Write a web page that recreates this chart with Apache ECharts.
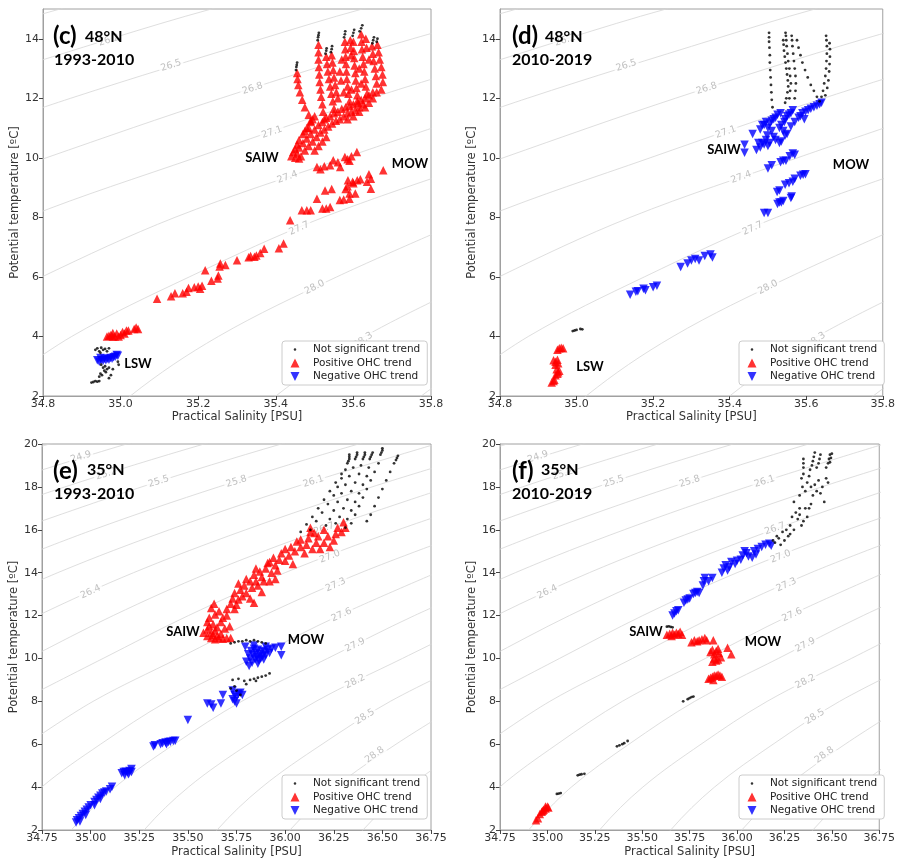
<!DOCTYPE html>
<html><head><meta charset="utf-8">
<script src="https://cdn.jsdelivr.net/npm/echarts@6/dist/echarts.min.js"></script>
<style>html,body{margin:0;padding:0;background:#fff}#chart{width:898px;height:861px}</style>
</head><body><div id="chart"></div>
<script>
// ---------- tick labels ----------
const topXTicks = [34.8, 35.0, 35.2, 35.4, 35.6, 35.8];
const topYTicks = [2, 4, 6, 8, 10, 12, 14];
const bottomXTicks = [34.75, 35.0, 35.25, 35.5, 35.75, 36.0, 36.25, 36.5, 36.75];
const bottomYTicks = [2, 4, 6, 8, 10, 12, 14, 16, 18, 20];
const seriesNames = ['Not significant trend', 'Positive OHC trend', 'Negative OHC trend'];
const panelTitles = ['(c)', '(d)', '(e)', '(f)'];
const panelLats = ['48°N', '48°N', '35°N', '35°N'];
const panelPeriods = ['1993-2010', '2010-2019', '1993-2010', '2010-2019'];

// ---------- isopycnal (sigma-theta) contours: [S, T] ----------
const topContourLevels = ['25.9','26.2','26.5','26.8','27.1','27.4','27.7','28.0','28.3','28.6'];
const topContourLines = [
  [[34.584,14],[34.844,15],[35.144,16]],
  [[34.484,12],[34.974,14],[35.234,15],[35.536,16]],
  [[34.423,10],[34.871,12],[35.364,14],[35.623,15],[35.928,16]],
  [[34.376,8],[34.808,10],[35.258,12],[35.753,14],[36.32,16]],
  [[34.418,6],[34.758,8],[35.192,10],[35.645,12],[36.143,14]],
  [[34.497,4],[34.797,6],[35.14,8],[35.577,10],[36.032,12]],
  [[34.65,2],[34.874,4],[35.177,6],[35.522,8],[35.962,10]],
  [[34.863,0],[35.025,2],[35.252,4],[35.557,6],[35.904,8]],
  [[35.236,0],[35.40,2],[35.629,4],[35.937,6]],
  [[35.609,0],[35.775,2],[36.006,4]]
];
const topContourLabels = [
  ['26.2',34.97,13.95],['26.5',35.13,13.1],['26.8',35.34,12.33],['27.1',35.39,10.86],
  ['27.4',35.43,9.35],['27.7',35.46,7.63],['28.0',35.5,5.65],['28.3',35.625,3.87]
];
const bottomContourLevels = ['24.6','24.9','25.2','25.5','25.8','26.1','26.4','26.7','27.0','27.3','27.6','27.9','28.2','28.5','28.8','29.1'];
const bottomContourLines = [
  [[34.079,18],[34.788,20],[35.573,22]],
  [[34.474,18],[35.185,20],[35.973,22]],
  [[34.229,16],[34.868,18],[35.583,20],[36.373,22]],
  [[34.621,16],[35.263,18],[35.98,20],[36.773,22]],
  [[34.442,14],[35.013,16],[35.658,18],[36.377,20],[37.173,22]],
  [[34.342,12],[34.831,14],[35.405,16],[36.053,18],[36.775,20]],
  [[34.295,10],[34.729,12],[35.221,14],[35.797,16],[36.447,18],[37.172,20]],
  [[34.248,8],[34.679,10],[35.116,12],[35.61,14],[36.19,16],[36.842,18]],
  [[34.631,8],[35.064,10],[35.503,12],[36.0,14],[36.582,16],[37.237,18]],
  [[34.671,6],[35.013,8],[35.449,10],[35.89,12],[36.39,14],[36.974,16]],
  [[34.525,2],[34.748,4],[35.051,6],[35.395,8],[35.833,10],[36.277,12],[36.779,14]],
  [[34.9,2],[35.126,4],[35.43,6],[35.777,8],[36.218,10],[36.665,12],[37.169,14]],
  [[35.112,0],[35.275,2],[35.503,4],[35.81,6],[36.159,8],[36.603,10],[37.052,12]],
  [[35.484,0],[35.65,2],[35.881,4],[36.19,6],[36.541,8],[36.987,10]],
  [[35.857,0],[36.025,2],[36.258,4],[36.57,6],[36.924,8]],
  [[36.23,0],[36.40,2],[36.635,4],[36.95,6]]
];
const bottomContourLabels = [
  ['24.9',34.95,19.4],['25.2',35.08,18.6],['25.5',35.35,18.25],['25.8',35.75,18.25],['26.1',36.145,18.25],
  ['26.4',35.0,13.1],['26.7',36.2,16.05],['27.0',36.23,14.75],['27.3',36.26,13.43],['27.6',36.29,12.03],
  ['27.9',36.36,10.63],['28.2',36.36,8.92],['28.5',36.41,7.28],['28.8',36.46,5.5]
];

// ---------- panel (c) 48N 1993-2010 ----------
const cNotSig = [
  [35.452,12.95],[35.453,13.05],[35.454,13.12],[35.455,13.2],
  [35.508,13.95],[35.509,14.05],[35.51,14.12],[35.511,14.2],
  [35.528,13.5],[35.53,13.6],[35.531,13.68],
  [35.542,13.55],[35.544,13.65],[35.545,13.75],
  [35.576,14.05],[35.578,14.15],[35.579,14.25],
  [35.598,14.1],[35.6,14.2],[35.602,14.3],
  [35.616,14.25],[35.62,14.35],[35.623,14.45],
  [35.649,13.85],[35.651,13.95],[35.653,14.05],
  [35.66,13.9],[35.662,14.0],
  [34.935,3.55],[34.94,3.6],[34.945,3.5],[34.95,3.62],[34.955,3.55],[34.96,3.58],[34.965,3.5],[34.97,3.6],[34.948,3.45],
  [34.95,3.05],[34.955,2.95],[34.96,3.0],[34.965,2.9],[34.97,2.95],[34.958,2.85],[34.962,2.8],[34.948,2.75],[34.952,2.7],[34.945,2.65],[34.975,2.7],[34.97,2.6],
  [34.925,2.45],[34.93,2.47],[34.935,2.5],[34.94,2.48],[34.945,2.5],
  [34.995,3.05],[34.993,3.15],[34.98,2.9]
];
const cPositive = [
  [35.455,12.85],[35.456,12.65],[35.458,12.45],[35.462,12.2],[35.468,11.95],[35.475,11.7],[35.485,11.45],[35.49,11.25],
  [35.51,13.8],[35.51,13.55],[35.51,13.3],[35.511,13.05],[35.512,12.8],[35.513,12.55],[35.515,12.3],[35.517,12.05],[35.52,11.8],[35.522,11.55],[35.525,11.3],
  [35.53,13.4],[35.532,13.15],[35.534,12.9],[35.537,12.65],[35.54,12.4],[35.543,12.15],[35.547,11.9],[35.55,11.65],
  [35.544,13.45],[35.546,13.2],[35.548,12.95],[35.55,12.7],[35.553,12.45],[35.556,12.2],
  [35.578,13.9],[35.579,13.65],[35.58,13.4],[35.581,13.15],[35.582,12.9],[35.583,12.65],[35.585,12.4],[35.587,12.15],[35.59,11.9],[35.592,13.95],[35.593,13.7],[35.594,13.45],
  [35.6,13.9],[35.601,13.6],[35.602,13.35],[35.603,13.1],[35.605,12.85],[35.606,12.6],[35.608,12.35],[35.61,12.1],[35.612,11.85],
  [35.62,14.15],[35.621,13.9],[35.622,13.65],[35.624,13.4],[35.626,13.15],[35.628,12.9],[35.63,12.65],[35.632,12.4],[35.635,12.15],[35.632,14.0],[35.634,13.7],
  [35.648,13.75],[35.65,13.5],[35.652,13.25],[35.655,13.0],[35.658,12.75],[35.66,12.5],[35.662,13.8],[35.665,13.55],[35.668,13.3],[35.672,13.05],[35.675,12.8],[35.676,12.55],[35.672,12.3],
  [35.66,12.2],[35.65,12.0],[35.64,11.85],[35.63,11.7],[35.615,11.55],[35.6,11.4],[35.585,11.3],
  [35.565,12.9],[35.568,12.6],[35.57,13.3],[35.615,13.0],[35.64,13.3],[35.595,12.3],[35.62,12.5],[35.575,12.2],[35.56,12.0],
  [35.44,10.05],[35.445,10.2],[35.45,10.0],[35.455,10.15],[35.46,10.35],[35.465,10.05],[35.47,10.5],[35.475,10.25],[35.48,10.65],[35.485,10.4],
  [35.49,10.8],[35.495,10.55],[35.5,10.95],[35.505,10.7],[35.51,11.1],[35.515,10.85],[35.52,11.2],[35.525,10.95],[35.53,11.35],[35.535,11.05],
  [35.54,11.4],[35.545,11.15],[35.55,11.5],[35.555,11.25],[35.56,11.55],[35.565,11.3],[35.57,11.65],[35.575,11.4],[35.58,11.7],[35.585,11.5],
  [35.59,11.75],[35.595,11.55],[35.6,11.8],[35.605,11.6],[35.61,11.9],[35.615,11.7],[35.62,11.95],[35.625,11.8],[35.63,12.0],[35.64,12.1],[35.65,12.2],
  [35.47,10.8],[35.48,11.0],[35.49,11.2],[35.5,11.4],[35.51,10.4],[35.52,10.55],[35.53,10.7],[35.5,10.25],[35.46,10.6],[35.455,10.45],[35.45,10.3],
  [35.495,11.3],[35.485,11.0],[35.475,10.9],[35.46,9.98],
  [35.506,9.69],[35.515,9.62],[35.525,9.72],[35.54,9.75],[35.548,9.92],[35.566,9.69],[35.56,9.85],[35.578,10.03],[35.59,9.9],[35.595,10.05],[35.609,10.2],[35.585,9.95],
  [35.437,7.9],[35.467,8.24],[35.48,8.24],[35.49,8.24],[35.506,8.63],[35.52,8.3],[35.527,8.9],[35.544,8.95],[35.53,8.3],[35.54,8.35],
  [35.565,8.58],[35.575,8.6],[35.59,8.63],[35.59,8.8],[35.605,8.8],[35.58,8.95],[35.586,9.25],[35.598,9.2],[35.61,9.25],[35.618,9.28],
  [35.635,9.2],[35.64,9.45],[35.645,9.3],[35.645,8.96],[35.677,9.58],[35.6,9.15],[35.585,9.05],
  [35.42,7.12],[35.408,6.96],[35.37,6.95],[35.36,6.8],[35.35,6.72],[35.345,6.68],[35.335,6.7],[35.33,6.66],[35.3,6.56],[35.27,6.4],
  [35.257,6.45],[35.255,6.35],[35.25,5.95],[35.252,6.05],[35.218,6.22],[35.234,5.87],[35.21,5.7],[35.2,5.68],[35.19,5.65],[35.175,5.63],
  [35.17,5.5],[35.16,5.45],[35.14,5.45],[35.13,5.35],[35.094,5.27],[35.205,5.6],
  [34.965,4.0],[34.97,4.02],[34.975,4.05],[34.98,4.0],[34.985,4.0],[34.99,4.1],[35.0,4.05],[35.005,4.15],[35.01,4.1],[35.015,4.2],
  [35.02,4.2],[35.035,4.25],[35.04,4.3],[35.045,4.25],[34.98,4.12],[34.995,4.0]
];
const cNegative = [
  [34.94,3.2],[34.945,3.15],[34.948,3.28],[34.95,3.2],[34.955,3.18],[34.958,3.25],[34.962,3.2],[34.966,3.25],
  [34.97,3.22],[34.974,3.28],[34.978,3.25],[34.982,3.3],[34.986,3.32],[34.99,3.38],[34.993,3.35]
];

// ---------- panel (d) 48N 2010-2019 ----------
const dNotSig = [
  [35.503,14.2],[35.503,14.05],[35.503,13.9],[35.504,13.7],[35.505,13.45],[35.505,13.2],[35.506,12.95],[35.507,12.7],[35.508,12.45],[35.509,12.2],[35.51,11.95],[35.512,11.7],
  [35.54,13.95],[35.541,13.8],[35.542,13.6],[35.544,13.4],[35.546,13.2],[35.548,13.0],[35.55,12.8],[35.552,12.6],[35.553,12.4],[35.551,12.2],[35.548,12.0],[35.545,11.85],
  [35.546,14.2],[35.547,14.1],[35.548,13.95],[35.549,13.75],[35.551,13.5],[35.553,13.25],[35.556,13.0],[35.558,12.75],[35.56,12.5],[35.558,12.25],[35.556,12.0],
  [35.562,14.1],[35.563,13.95],[35.564,13.75],[35.566,13.5],[35.568,13.25],[35.57,13.0],[35.572,12.75],[35.573,12.5],[35.572,12.25],[35.57,12.0],
  [35.576,13.95],[35.58,13.7],[35.585,13.45],[35.59,13.2],[35.597,12.95],[35.604,12.7],[35.612,12.45],[35.62,12.25],[35.628,12.05],[35.635,11.9],
  [35.652,14.1],[35.653,13.95],[35.654,13.75],[35.654,13.5],[35.653,13.25],[35.652,13.0],[35.65,12.75],[35.647,12.5],[35.644,12.25],[35.64,12.05],
  [35.661,13.85],[35.662,13.65],[35.662,13.4],[35.661,13.15],[35.66,12.9],[35.658,12.6],[35.655,12.35],[35.65,12.1],
  [34.99,4.18],[34.995,4.2],[35.0,4.22],[35.01,4.25],[35.015,4.24]
];
const dPositive = [
  [34.955,3.6],[34.96,3.62],[34.965,3.6],[34.95,3.55],[34.94,3.2],[34.945,3.15],[34.95,3.22],[34.952,3.1],[34.948,2.9],
  [34.952,2.8],[34.955,2.85],[34.945,2.7],[34.95,2.75],[34.94,2.5],[34.935,2.45],[34.945,3.05],[34.942,2.55]
];
const dNegative = [
  [35.439,10.44],[35.439,10.17],[35.46,10.8],[35.47,10.26],[35.475,10.5],[35.48,10.35],[35.485,11.1],[35.49,11.1],[35.485,10.5],[35.49,10.45],
  [35.495,10.6],[35.5,11.0],[35.505,11.15],[35.51,11.25],[35.515,11.3],[35.52,11.35],[35.525,11.45],[35.533,11.5],[35.5,10.4],[35.505,10.5],
  [35.515,10.7],[35.52,10.6],[35.53,11.0],[35.535,11.1],[35.543,11.2],[35.545,11.3],[35.55,11.4],[35.555,11.45],[35.56,11.5],[35.565,11.6],
  [35.53,10.5],[35.535,10.55],[35.545,10.75],[35.55,10.8],[35.54,10.9],[35.58,11.35],[35.585,11.4],[35.59,11.5],[35.598,11.55],[35.605,11.6],
  [35.612,11.65],[35.62,11.7],[35.628,11.75],[35.635,11.8],[35.64,11.85],[35.595,11.3],[35.57,11.2],[35.56,11.05],[35.51,10.9],[35.48,10.95],
  [35.495,11.2],[35.498,10.75],
  [35.50,9.64],[35.51,9.75],[35.533,9.85],[35.54,9.9],[35.547,9.9],[35.557,10.05],[35.565,10.15],[35.57,10.1],
  [35.524,8.85],[35.53,8.9],[35.545,9.1],[35.555,9.15],[35.565,9.2],[35.57,9.3],[35.585,9.4],[35.592,9.43],[35.598,9.45],
  [35.525,8.45],[35.53,8.5],[35.535,8.5],[35.54,8.55],[35.56,8.65],[35.562,8.7],[35.49,8.15],[35.5,8.15],
  [35.14,5.4],[35.155,5.5],[35.16,5.52],[35.175,5.6],[35.18,5.55],[35.2,5.65],[35.21,5.7],
  [35.272,6.33],[35.29,6.45],[35.3,6.55],[35.31,6.6],[35.32,6.55],[35.335,6.7],[35.35,6.75],[35.355,6.65]
];

// ---------- panel (e) 35N 1993-2010 ----------
const eNotSig = [
  [36.33,19.5],[36.33,19.4],[36.33,19.3],[36.325,19.2],[36.32,19.1],
  [36.37,19.6],[36.37,19.5],[36.365,19.4],[36.36,19.3],
  [36.41,19.6],[36.41,19.5],[36.405,19.4],[36.40,19.3],
  [36.45,19.6],[36.445,19.5],[36.44,19.4],[36.435,19.3],
  [36.50,19.8],[36.50,19.7],[36.495,19.6],[36.49,19.5],
  [36.58,19.45],[36.575,19.35],[36.57,19.25],
  [36.31,18.8],[36.29,18.4],[36.27,18.0],[36.25,17.6],[36.22,17.2],[36.19,16.8],[36.16,16.4],[36.13,16.0],
  [36.35,18.9],[36.33,18.5],[36.31,18.1],[36.29,17.7],[36.27,17.3],[36.25,16.9],[36.23,16.5],[36.21,16.2],
  [36.39,19.0],[36.38,18.6],[36.36,18.2],[36.34,17.8],[36.32,17.4],[36.30,17.0],[36.28,16.6],[36.26,16.3],
  [36.43,18.9],[36.42,18.5],[36.40,18.1],[36.38,17.7],[36.36,17.3],[36.34,16.9],[36.32,16.5],[36.31,16.1],
  [36.48,19.1],[36.46,18.7],[36.44,18.3],[36.42,17.9],[36.40,17.5],[36.38,17.1],[36.36,16.7],[36.34,16.3],
  [36.56,19.1],[36.54,18.7],[36.52,18.3],[36.50,17.9],[36.48,17.5],[36.46,17.1],[36.44,16.7],[36.42,16.4],
  [36.08,15.9],[36.11,16.25],[36.14,16.6],[36.17,17.0],[36.2,17.4],[36.23,17.8],[36.26,18.2],[36.29,18.6],
  [35.72,10.7],[35.74,10.75],[35.76,10.8],[35.78,10.8],[35.80,10.85],[35.82,10.8],[35.84,10.85],[35.86,10.8],[35.88,10.75],[35.90,10.7],
  [35.73,9.0],[35.76,9.05],[35.79,8.95],[35.82,9.0],[35.84,9.05],[35.86,9.1],[35.88,9.15],[35.9,9.2],[35.92,9.3],[35.85,8.95],
  [35.74,8.7],[35.75,8.5],[35.77,8.3],[35.72,8.6],[35.8,8.8]
];
const ePositive = [
  [35.58,11.2],[35.6,11.35],[35.6,11.05],[35.61,11.5],[35.62,11.2],[35.62,10.95],[35.63,11.1],[35.64,11.3],[35.64,10.9],[35.65,11.05],
  [35.66,10.95],[35.67,11.15],[35.68,10.92],[35.7,10.95],[35.72,10.95],[35.6,11.7],[35.61,11.9],[35.63,11.6],[35.65,11.45],[35.67,11.7],
  [35.64,12.05],[35.66,12.2],[35.68,11.9],[35.7,12.0],[35.69,11.4],[35.715,11.5],[35.62,12.35],[35.635,12.55],
  [35.7,12.3],[35.72,12.55],[35.73,12.8],[35.75,12.5],[35.76,12.75],[35.78,12.9],[35.74,13.05],[35.77,13.2],[35.79,13.4],[35.8,13.05],
  [35.82,12.8],[35.83,13.3],[35.85,13.6],[35.82,13.6],[35.84,13.9],[35.86,13.4],[35.88,13.8],[35.87,14.05],[35.9,14.2],[35.89,13.6],
  [35.92,13.6],[35.93,14.0],[35.95,14.35],[35.92,14.5],[35.94,14.7],[35.97,14.6],[35.96,14.1],[35.98,14.9],[36.0,14.55],[36.02,14.8],
  [36.0,15.1],[36.03,15.2],[36.05,15.0],[36.06,15.45],[36.08,15.2],[36.08,15.55],[36.1,14.9],[36.11,15.3],[36.12,15.6],[36.13,15.9],
  [36.14,15.1],[36.16,15.4],[36.17,15.7],[36.18,15.1],[36.2,15.4],[36.2,16.0],[36.22,15.7],[36.23,15.2],[36.25,15.5],[36.26,15.8],
  [36.27,16.1],[36.29,15.9],[36.3,16.35],[36.31,16.1],[36.13,16.1],[36.15,15.85],[35.88,13.1],[35.76,13.5],[35.8,13.7],[35.91,14.45],
  [35.85,14.2],[35.74,12.3],[35.95,13.7],[36.04,14.4],[35.84,12.6]
];
const eNegative = [
  [35.795,10.55],[35.8,9.85],[35.81,10.2],[35.82,10.0],[35.825,10.35],[35.83,9.8],[35.835,10.15],[35.84,10.45],[35.845,9.95],[35.85,10.25],
  [35.855,10.05],[35.86,10.4],[35.865,9.9],[35.87,10.2],[35.875,10.0],[35.88,10.35],[35.885,10.1],[35.89,9.95],[35.895,10.3],[35.9,10.15],
  [35.91,10.4],[35.92,10.25],[35.93,10.45],[35.95,10.5],[35.98,10.55],[35.98,10.15],[35.86,9.75],[35.84,10.6],[35.9,10.55],[35.815,9.65],
  [35.73,8.5],[35.74,8.3],[35.75,8.2],[35.76,8.35],[35.77,8.4],[35.78,8.3],[35.74,8.0],[35.75,7.9],[35.73,8.1],[35.68,8.3],
  [35.67,7.9],[35.62,7.85],[35.6,7.9],[35.63,7.7],[35.5,7.13],
  [35.323,5.89],[35.33,5.95],[35.36,6.0],[35.37,6.05],[35.385,6.08],[35.4,6.1],[35.41,6.12],[35.425,6.15],[35.435,6.16],[35.39,6.0],
  [35.16,4.65],[35.17,4.7],[35.18,4.72],[35.19,4.68],[35.2,4.75],[35.21,4.7],[35.175,4.55],[35.195,4.6],[35.21,4.85],
  [35.11,4.02],[35.1,3.9],[35.08,3.8],[35.06,3.7],[35.05,3.6],[35.04,3.5],[35.03,3.4],[35.02,3.3],[35.0,3.15],[34.99,3.05],
  [34.98,2.95],[34.97,2.85],[34.96,2.75],[34.95,2.65],[34.94,2.55],[34.93,2.45],[34.925,2.35],[35.07,3.75],[35.05,3.45],[35.02,3.15],
  [34.975,2.7],[34.945,2.4]
];

// ---------- panel (f) 35N 2010-2019 ----------
const fNotSig = [
  [36.35,19.3],[36.35,19.1],[36.35,18.9],[36.35,18.6],[36.41,19.6],[36.405,19.4],[36.40,19.2],[36.395,19.0],[36.385,18.8],
  [36.44,19.5],[36.435,19.3],[36.43,19.1],[36.42,18.9],[36.49,19.5],[36.485,19.3],[36.48,19.1],[36.47,18.9],[36.5,19.55],[36.495,19.35],[36.49,19.15],
  [36.34,18.4],[36.345,18.0],[36.33,17.6],[36.36,17.8],[36.37,18.2],[36.38,18.5],[36.39,18.0],[36.4,17.6],[36.41,18.1],[36.42,17.8],
  [36.43,18.3],[36.44,17.7],[36.45,18.0],[36.47,18.4],[36.46,17.3],[36.48,18.2],[36.39,17.2],[36.36,17.0],[36.33,17.0],[36.31,16.8],
  [36.3,17.3],[36.32,16.5],[36.35,16.4],[36.37,16.6],[36.38,17.0],[36.34,16.2],[36.29,16.6],[36.28,16.2],[36.3,16.0],[36.26,16.0],
  [36.27,15.7],[36.24,15.9],[36.22,15.6],[36.25,15.5],[36.2,15.4],[36.23,15.3],[36.21,15.7],[36.19,15.5],[36.28,15.8],[36.33,16.7],
  [35.63,11.48],[35.64,11.5],[35.65,11.47],[35.66,11.45],
  [35.716,8.0],[35.74,8.1],[35.75,8.15],[35.76,8.2],[35.77,8.22],
  [35.367,5.9],[35.38,5.95],[35.395,6.0],[35.405,6.05],[35.423,6.15],
  [35.16,4.55],[35.17,4.58],[35.18,4.6],[35.195,4.62],
  [35.05,3.68],[35.06,3.7],[35.07,3.72]
];
const fPositive = [
  [34.94,2.45],[34.95,2.55],[34.96,2.75],[34.97,2.85],[34.98,2.95],[34.99,3.0],[35.0,3.1],[35.005,3.05],[34.975,2.9],[34.99,3.1],
  [35.63,11.1],[35.645,11.15],[35.66,11.2],[35.67,11.1],[35.68,11.2],[35.69,11.15],[35.7,11.25],[35.71,11.1],[35.655,11.05],
  [35.76,10.75],[35.775,10.85],[35.79,10.8],[35.8,10.85],[35.815,10.9],[35.83,10.95],[35.84,10.85],[35.875,10.85],
  [35.86,10.3],[35.87,10.4],[35.88,10.2],[35.89,10.35],[35.9,10.45],[35.905,10.25],[35.95,10.5],[35.97,10.2],
  [35.87,9.85],[35.88,10.0],[35.89,9.9],[35.9,9.95],[35.915,10.05],
  [35.85,9.05],[35.86,9.1],[35.87,9.15],[35.88,9.2],[35.89,9.2],[35.9,9.25],[35.91,9.2],[35.92,9.15],[35.875,9.0]
];
const fNegative = [
  [35.66,12.0],[35.67,12.1],[35.68,12.2],[35.69,12.25],[35.72,12.6],[35.73,12.7],[35.74,12.75],[35.75,12.8],[35.77,13.0],[35.78,13.05],
  [35.79,13.1],[35.8,13.05],[35.82,13.4],[35.825,13.6],[35.83,13.75],[35.85,13.6],[35.87,13.75],[35.92,14.0],[35.93,14.2],[35.94,14.35],
  [35.95,14.1],[35.96,14.25],[35.97,14.5],[35.99,14.4],[36.0,14.55],[36.02,14.6],[36.03,14.8],[36.05,14.9],[36.06,14.75],[36.04,15.0],
  [36.09,15.0],[36.11,15.1],[36.13,15.2],[36.15,15.3],[36.17,15.35],[36.18,15.25],[36.1,14.85],[36.08,14.7]
];

// ---------- chart building ----------
const FONT = 'DejaVu Sans';
const TITLE_FONT = 'Lato';
const RED = '#ff0000', BLUE = '#0000ff', BLACK = '#000000';
const DOWN_TRI = 'path://M0,0L10,0L5,9Z';
// legend icons drawn inside a 26x9 box so they are not stretched
const LEG_DOT = 'path://M0,0L0.01,0M26,9L26.01,9M11.7,4.5A1.3,1.3,0,1,0,14.3,4.5A1.3,1.3,0,1,0,11.7,4.5Z';
const LEG_UP = 'path://M0,0L0.01,0M26,9L26.01,9M8.5,9L13,0L17.5,9Z';
const LEG_DOWN = 'path://M0,0L0.01,0M26,9L26.01,9M8.5,0L17.5,0L13,9Z';

const panels = [
  {ns: cNotSig, pos: cPositive, neg: cNegative, top: true},
  {ns: dNotSig, pos: dPositive, neg: dNegative, top: true},
  {ns: eNotSig, pos: ePositive, neg: eNegative, top: false},
  {ns: fNotSig, pos: fPositive, neg: fNegative, top: false}
];
const gridBoxes = [
  {left: 43, top: 9, width: 388, height: 387},
  {left: 500, top: 9, width: 389, height: 387},
  {left: 42, top: 444, width: 389, height: 386},
  {left: 500, top: 444, width: 389, height: 386}
];
const legendPos = [[282, 341], [739, 341], [282, 775], [739, 775]];

const chart = echarts.init(document.getElementById('chart'), null, {renderer: 'canvas'});

function buildOption(rotations) {
  const grid = [], xAxis = [], yAxis = [], series = [], legend = [], graphic = [];
  panels.forEach((p, i) => {
    grid.push(Object.assign({show: true, borderColor: '#a0a0a0', borderWidth: 1, containLabel: false}, gridBoxes[i]));
    const xt = p.top ? topXTicks : bottomXTicks;
    const yt = p.top ? topYTicks : bottomYTicks;
    const dec = p.top ? 1 : 2;
    xAxis.push({
      gridIndex: i, type: 'value', min: p.top ? 34.8 : 34.75, max: p.top ? 35.8 : 36.75,
      axisLine: {show: true, onZero: false, lineStyle: {color: '#a0a0a0'}},
      axisTick: {show: true, length: 4, customValues: xt, lineStyle: {color: '#444'}},
      axisLabel: {customValues: xt, fontFamily: FONT, fontSize: 11, color: '#333', margin: 3,
        formatter: v => Number(v).toFixed(dec)},
      splitLine: {show: false},
      name: 'Practical Salinity [PSU]', nameLocation: 'middle', nameGap: p.top ? 12 : 16,
      nameTextStyle: {fontFamily: FONT, fontSize: 11.5, color: '#333'}
    });
    yAxis.push({
      gridIndex: i, type: 'value', min: 2, max: p.top ? 15 : 20,
      axisLine: {show: true, onZero: false, lineStyle: {color: '#a0a0a0'}},
      axisTick: {show: true, length: 4, customValues: yt, lineStyle: {color: '#444'}},
      axisLabel: {customValues: yt, fontFamily: FONT, fontSize: 11, color: '#333', margin: 4},
      splitLine: {show: false},
      name: 'Potential temperature [ºC]', nameLocation: 'middle', nameGap: 21,
      nameTextStyle: {fontFamily: FONT, fontSize: 11.5, color: '#333'}
    });
    const lines = p.top ? topContourLines : bottomContourLines;
    const levels = p.top ? topContourLevels : bottomContourLevels;
    lines.forEach((pts, k) => {
      series.push({
        type: 'line', name: 'sigma ' + levels[k], xAxisIndex: i, yAxisIndex: i, data: pts,
        smooth: 0.35, symbol: 'none', showSymbol: false, silent: true, clip: true,
        lineStyle: {color: '#d6d6d6', width: 0.8}, z: 1
      });
    });
    const labs = p.top ? topContourLabels : bottomContourLabels;
    series.push({
      type: 'scatter', name: 'contour labels', xAxisIndex: i, yAxisIndex: i, silent: true, z: 2,
      symbolSize: 1, itemStyle: {color: 'rgba(0,0,0,0)'},
      label: {show: true, position: 'inside', formatter: '{b}', fontFamily: FONT, fontSize: 9.5,
        color: '#b0b0b0', backgroundColor: '#fff', padding: [0, 2]},
      data: labs.map((l, k) => ({name: l[0], value: [l[1], l[2]],
        label: {rotate: rotations ? rotations[i][k] : 20}}))
    });
    series.push({
      type: 'scatter', name: seriesNames[1], xAxisIndex: i, yAxisIndex: i, data: p.pos,
      symbol: 'triangle', symbolSize: 8.5, itemStyle: {color: RED}, z: 3, silent: true
    });
    series.push({
      type: 'scatter', name: seriesNames[2], xAxisIndex: i, yAxisIndex: i, data: p.neg,
      symbol: DOWN_TRI, symbolSize: 8.5, itemStyle: {color: BLUE}, z: 3, silent: true
    });
    series.push({
      type: 'scatter', name: seriesNames[0], xAxisIndex: i, yAxisIndex: i, data: p.ns,
      symbol: 'circle', symbolSize: 2.8, itemStyle: {color: BLACK}, z: 4, silent: true
    });
    legend.push({
      left: legendPos[i][0], top: legendPos[i][1], orient: 'vertical', selectedMode: false,
      itemWidth: 26, itemHeight: 9, itemGap: 2.5, padding: [3, 7, 3, 0],
      borderColor: '#cccccc', borderWidth: 1, borderRadius: 3, backgroundColor: '#fff',
      textStyle: {fontFamily: FONT, fontSize: 10.5, color: '#222'},
      data: [
        {name: seriesNames[0], icon: LEG_DOT},
        {name: seriesNames[1], icon: LEG_UP},
        {name: seriesNames[2], icon: LEG_DOWN}
      ], z: 10
    });
  });

  // panel titles and water-mass annotations (pixel layout)
  const titleAnchors = [[53, 36, 85, 37, 54, 60], [512, 36, 545, 37, 512, 60], [53, 471, 87, 470, 54, 494], [512, 471, 541, 470, 512, 494]];
  titleAnchors.forEach((a, i) => {
    graphic.push({type: 'text', x: a[0], y: a[1], z: 100, style: {text: panelTitles[i], font: 'bold 24px ' + TITLE_FONT, fill: '#000', textAlign: 'left', textVerticalAlign: 'middle'}});
    graphic.push({type: 'text', x: a[2], y: a[3], z: 100, style: {text: panelLats[i], font: 'bold 16px ' + TITLE_FONT, fill: '#000', textAlign: 'left', textVerticalAlign: 'middle'}});
    graphic.push({type: 'text', x: a[4], y: a[5], z: 100, style: {text: panelPeriods[i], font: 'bold 16px ' + TITLE_FONT, fill: '#000', textAlign: 'left', textVerticalAlign: 'middle'}});
  });
  const waterMasses = [
    ['SAIW', 262, 158], ['MOW', 410, 164], ['LSW', 138, 364],
    ['SAIW', 724, 150], ['MOW', 851, 165], ['LSW', 590, 367],
    ['SAIW', 183, 632], ['MOW', 306, 640],
    ['SAIW', 646, 632], ['MOW', 763, 642]
  ];
  waterMasses.forEach(w => graphic.push({type: 'text', x: w[1], y: w[2], z: 100,
    style: {text: w[0], font: 'bold 13px ' + TITLE_FONT, fill: '#000', textAlign: 'center', textVerticalAlign: 'middle'}}));

  return {animation: false, backgroundColor: '#fff', grid, xAxis, yAxis, series, legend, graphic};
}

chart.setOption(buildOption(null));

// orient the contour labels along their isopycnal in pixel space
function labelAngle(gi, pts, T) {
  let k = 0;
  for (let j = 0; j < pts.length - 1; j++) { if (T >= pts[j][1] && T <= pts[j + 1][1]) { k = j; break; } }
  const a = chart.convertToPixel({gridIndex: gi}, pts[k]);
  const b = chart.convertToPixel({gridIndex: gi}, pts[k + 1]);
  return Math.atan2(a[1] - b[1], b[0] - a[0]) * 180 / Math.PI;
}
const rotations = panels.map((p, i) => {
  const labs = p.top ? topContourLabels : bottomContourLabels;
  const levels = p.top ? topContourLevels : bottomContourLevels;
  const lines = p.top ? topContourLines : bottomContourLines;
  return labs.map(l => labelAngle(i, lines[levels.indexOf(l[0])], l[2]));
});
chart.setOption(buildOption(rotations), true);
</script></body></html>
